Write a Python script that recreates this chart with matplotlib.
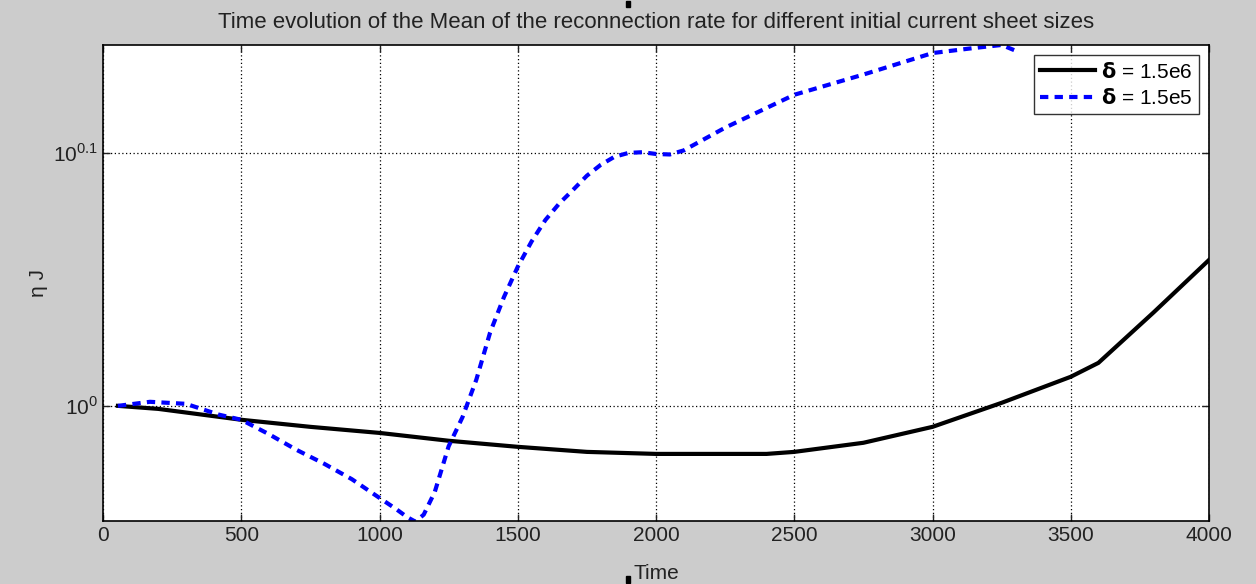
import numpy as np
import matplotlib.pyplot as plt
from matplotlib.patches import Rectangle

# Mean reconnection rate (eta J), sampled off the two runs
t_large = [54, 200, 500, 750, 1000, 1250, 1500, 1750, 2000, 2250, 2400, 2500,
           2750, 3000, 3250, 3500, 3600, 3800, 4000]
logeta_large = [0.0, -0.0012, -0.0055, -0.0083, -0.0107, -0.0138, -0.0162, -0.0182,
                -0.0190, -0.0190, -0.0190, -0.0182, -0.0146, -0.0083, 0.0012,
                0.0115, 0.0170, 0.0370, 0.0577]

t_small = [54, 170, 300, 420, 500, 600, 700, 800, 900, 1000, 1060, 1100, 1130,
           1160, 1200, 1250, 1300, 1350, 1400, 1450, 1500, 1550, 1600, 1650, 1700,
           1750, 1800, 1850, 1900, 1950, 2000, 2050, 2100, 2250, 2500, 2750, 3000,
           3150, 3250, 3310]
logeta_small = [0.0, 0.0016, 0.0008, -0.0035, -0.0055, -0.0112, -0.0174, -0.0229,
                -0.0290, -0.0364, -0.0408, -0.0440, -0.0458, -0.0430, -0.0340,
                -0.0160, -0.0045, 0.0103, 0.0290, 0.0430, 0.0550, 0.0650, 0.0735,
                0.0800, 0.0854, 0.0910, 0.0953, 0.0985, 0.1000, 0.1003, 0.0996,
                0.0994, 0.1010, 0.1100, 0.1230, 0.1310, 0.1395, 0.1415, 0.1427, 0.1400]

x_ticks = [0, 500, 1000, 1500, 2000, 2500, 3000, 3500, 4000]
y_ticks = [0.0, 0.1]
y_tick_labels = ['$10^{0}$', '$10^{0.1}$']

plt.rcParams['font.family'] = ['Liberation Sans', 'DejaVu Sans']
plt.rcParams['mathtext.fontset'] = 'custom'
plt.rcParams['mathtext.rm'] = 'Liberation Sans'

fig = plt.figure(figsize=(12.56, 5.84), dpi=100, facecolor='#cccccc')
ax = fig.add_axes([0.082, 0.108, 0.8806, 0.815])
ax.set_facecolor('white')

ax.plot(t_large, 10 ** np.array(logeta_large), color='black', lw=3,
        label=r'$\mathbf{\delta}$ = 1.5e6')
ax.plot(t_small, 10 ** np.array(logeta_small), color='blue', lw=3,
        dashes=(2, 1.5), label=r'$\mathbf{\delta}$ = 1.5e5')

ax.set_yscale('log')
ax.set_xlim(0, 4000)
ax.set_ylim(10 ** -0.0455, 10 ** 0.1427)
ax.set_xticks(x_ticks)
ax.set_yticks([10 ** v for v in y_ticks])
ax.set_yticklabels(y_tick_labels)
ax.minorticks_off()
ax.tick_params(direction='in', top=True, right=True, length=5, width=1,
               labelsize=15, colors='#222222')
ax.grid(True, color='black', linestyle=(0, (1, 2)), linewidth=0.9)
for s in ax.spines.values():
    s.set_linewidth(1.2)

ax.set_title('Time evolution of the Mean of the reconnection rate for different initial current sheet sizes',
             fontsize=16, color='#222222', pad=12)
ax.set_xlabel('Time', fontsize=15, color='#222222', labelpad=14)
ax.set_ylabel('η J', fontsize=15, color='#222222', labelpad=4)

leg = ax.legend(loc='upper right', fontsize=15, frameon=True, fancybox=False,
                edgecolor='black', handlelength=2.6, borderaxespad=0.5,
                borderpad=0.3, labelspacing=0.3, handletextpad=0.3)
leg.get_frame().set_linewidth(1)

# selection handles of the figure window
fig.patches.append(Rectangle((0.4985, 0.988), 0.003, 0.01, transform=fig.transFigure,
                             color='black'))
fig.patches.append(Rectangle((0.4985, 0.002), 0.003, 0.012, transform=fig.transFigure,
                             color='black'))

fig.savefig('out.png', dpi=100, facecolor=fig.get_facecolor())
